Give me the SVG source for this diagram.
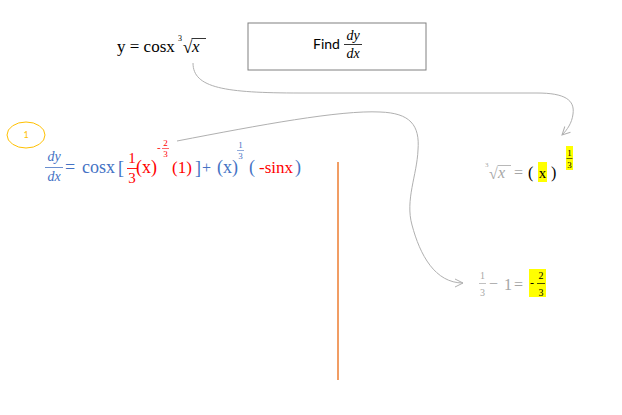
<svg xmlns="http://www.w3.org/2000/svg" width="622" height="415" viewBox="0 0 622 415">
<defs>
<style>
.s{font-family:"Liberation Serif","Times New Roman",serif}
.i{font-style:italic}
.b{fill:#4472C4}
.r{fill:#FF0000}
.g{fill:#A6A6A6}
.k{fill:#000}
.m{text-anchor:middle}
.conn{fill:none;stroke:#B0B0B0;stroke-width:1}
</style>
<marker id="ah" viewBox="0 0 10 10" refX="9" refY="5" markerWidth="10" markerHeight="10" markerUnits="userSpaceOnUse" orient="auto">
<path d="M1,1 L9,5 L1,9" fill="none" stroke="#B0B0B0" stroke-width="1"/>
</marker>
</defs>
<rect width="622" height="415" fill="#fff"/>

<g id="given">
<text class="s k" x="117" y="52" font-size="17">y = cosx</text>
<text class="s k" x="178" y="41" font-size="8">3</text>
<text class="s k" x="183" y="53" font-size="17">√</text>
<line x1="191.5" y1="38.5" x2="206" y2="38.5" stroke="#000" stroke-width="0.8"/>
<text class="s i k" x="192" y="52" font-size="17">x</text>
</g>

<g id="find">
<rect x="248" y="23" width="178" height="47" fill="#fff" stroke="#808080" stroke-width="1"/>
<text x="313" y="49" font-family="Lato,'Liberation Sans',sans-serif" font-size="14" fill="#000">Find</text>
<text class="s i k m" x="353" y="40" font-size="14">dy</text>
<line x1="344" y1="44.5" x2="362" y2="44.5" stroke="#000" stroke-width="0.8"/>
<text class="s i k m" x="353" y="58" font-size="14">dx</text>
</g>

<g id="step1">
<ellipse cx="26" cy="135" rx="19" ry="13" fill="none" stroke="#FFC000" stroke-width="1"/>
<text x="26" y="138" font-family="Lato,'Liberation Sans',sans-serif" font-size="9" fill="#FFC000" text-anchor="middle">1</text>
</g>

<g id="derivative">
<text class="s i b m" x="54" y="161" font-size="14">dy</text>
<line x1="45" y1="167.5" x2="63" y2="167.5" stroke="#4472C4" stroke-width="0.8"/>
<text class="s i b m" x="54" y="181" font-size="14">dx</text>
<text class="s b" x="65" y="173" font-size="18">=</text>
<text class="s b" x="82" y="173" font-size="18">cosx</text>
<text class="s b" x="118" y="174" font-size="18">[</text>
<text class="s r m" x="132" y="163" font-size="15">1</text>
<line x1="127" y1="168.5" x2="137" y2="168.5" stroke="#FF0000" stroke-width="0.9"/>
<text class="s r m" x="132" y="183" font-size="15">3</text>
<text class="s r" x="136" y="173" font-size="18">(x)</text>
<text class="s r" x="157" y="151" font-size="11">-</text>
<text class="s r m" x="165.5" y="146" font-size="9">2</text>
<line x1="162" y1="148.5" x2="169" y2="148.5" stroke="#FF0000" stroke-width="0.6"/>
<text class="s r m" x="165.5" y="157" font-size="9">3</text>
<text class="s r" x="172" y="173" font-size="17">(1)</text>
<text class="s b" x="195" y="174" font-size="18">]</text>
<text class="s b" x="202" y="173" font-size="16">+</text>
<text class="s b" x="217" y="173" font-size="18">(x)</text>
<text class="s b m" x="240.5" y="148" font-size="9">1</text>
<line x1="237" y1="150.5" x2="244" y2="150.5" stroke="#4472C4" stroke-width="0.6"/>
<text class="s b m" x="240.5" y="159" font-size="9">3</text>
<text class="s b" x="249" y="173" font-size="18">(</text>
<text class="s r" x="259" y="173" font-size="17">-sinx</text>
<text class="s b" x="295" y="173" font-size="18">)</text>
</g>

<g id="root-as-power">
<text class="s g" x="485" y="167" font-size="7">3</text>
<text class="s g" x="489" y="179" font-size="16">√</text>
<line x1="497.5" y1="165.5" x2="511" y2="165.5" stroke="#A6A6A6" stroke-width="0.8"/>
<text class="s i g" x="498" y="178" font-size="16">x</text>
<text class="s g" x="514" y="178" font-size="16">=</text>
<text class="s k" x="528" y="178" font-size="16">(</text>
<rect x="538" y="162" width="9" height="20" fill="#FFFF00"/>
<text class="s k m" x="542.5" y="178" font-size="15">x</text>
<text class="s k" x="551" y="178" font-size="16">)</text>
<rect x="566" y="146" width="7" height="24" fill="#FFFF00"/>
<text class="s k m" x="569.5" y="156" font-size="9">1</text>
<line x1="566.5" y1="158.5" x2="572.5" y2="158.5" stroke="#000" stroke-width="0.6"/>
<text class="s k m" x="569.5" y="168" font-size="9">3</text>
</g>

<g id="exponent">
<text class="s g m" x="482.5" y="279" font-size="10">1</text>
<line x1="479" y1="283.5" x2="486" y2="283.5" stroke="#A6A6A6" stroke-width="0.7"/>
<text class="s g m" x="482.5" y="296" font-size="10">3</text>
<text class="s g" x="489" y="289" font-size="16">−</text>
<text class="s g" x="504" y="290" font-size="16">1</text>
<text class="s g" x="514" y="290" font-size="16">=</text>
<rect x="529" y="269" width="17" height="28" fill="#FFFF00"/>
<text class="s k" x="530" y="287" font-size="12">-</text>
<text class="s k m" x="541" y="279" font-size="10">2</text>
<line x1="537" y1="283.5" x2="545" y2="283.5" stroke="#000" stroke-width="0.7"/>
<text class="s k m" x="541" y="296" font-size="10">3</text>
</g>

<g id="divider">
<line x1="338" y1="162" x2="338" y2="380" stroke="#ED7D31" stroke-width="1.5"/>
</g>

<g id="connectors">
<path class="conn" d="M193,63 C193,88 225,93 300,93 L537,93 C565,93 575,100 573,114 C572,123 567,130 562,135" marker-end="url(#ah)"/>
<path class="conn" d="M177,141 C260,125 340,110 380,112 C410,113 420,125 418,150 C417,175 405,200 412,225 C420,255 435,283 463,283" marker-end="url(#ah)"/>
</g>
</svg>
